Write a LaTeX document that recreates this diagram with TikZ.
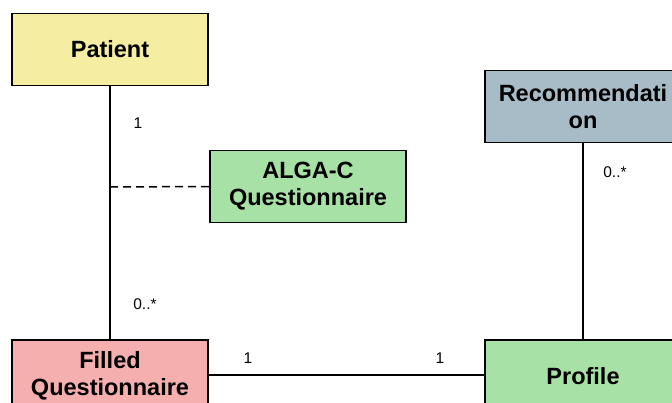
\documentclass[tikz,border=0pt]{standalone}
\usepackage{fontspec}
\setmainfont{Liberation Sans}
\begin{document}
\begin{tikzpicture}[x=1pt,y=-1pt,
  cls/.style={draw=black, line width=1.6pt, minimum width=196pt, minimum height=72pt,
    inner sep=0pt, align=center, font=\fontsize{23.5}{27}\selectfont\bfseries},
  link/.style={line width=1.5pt},
  mult/.style={font=\fontsize{15.5}{17}\selectfont, inner sep=0pt}]
\definecolor{pyellow}{RGB}{245,238,162}
\definecolor{pgreen}{RGB}{167,225,165}
\definecolor{pblue}{RGB}{167,188,199}
\definecolor{ppink}{RGB}{246,175,175}
\useasboundingbox (0,0) rectangle (672,403);
\node[cls, fill=pyellow] (patient) at (110,49.5) {Patient};
\node[cls, fill=pgreen] (alga) at (308,186.5) {ALGA-C\\Questionnaire};
\node[cls, fill=pblue] (rec) at (583,106.5) {Recommendati\\on};
\node[cls, fill=ppink] (filled) at (110,376) {Filled\\Questionnaire};
\node[cls, fill=pgreen] (profile) at (583,376) {Profile};
\coordinate (assoc) at (110,187);
\draw[link] (patient.south) -- (filled.north);
\draw[link, dashed, dash pattern=on 8pt off 5pt] (assoc) -- (alga.west);
\draw[link] (rec.south) -- (profile.north);
\draw[link] (filled.east |- 0,375) -- (profile.west |- 0,375);
\node[mult] (m1) at (138,123) {1};
\node[mult] (m2) at (145,304) {0..*};
\node[mult] (m3) at (615,172) {0..*};
\node[mult] (m4) at (248,358) {1};
\node[mult] (m5) at (440,358) {1};
\end{tikzpicture}
\end{document}
